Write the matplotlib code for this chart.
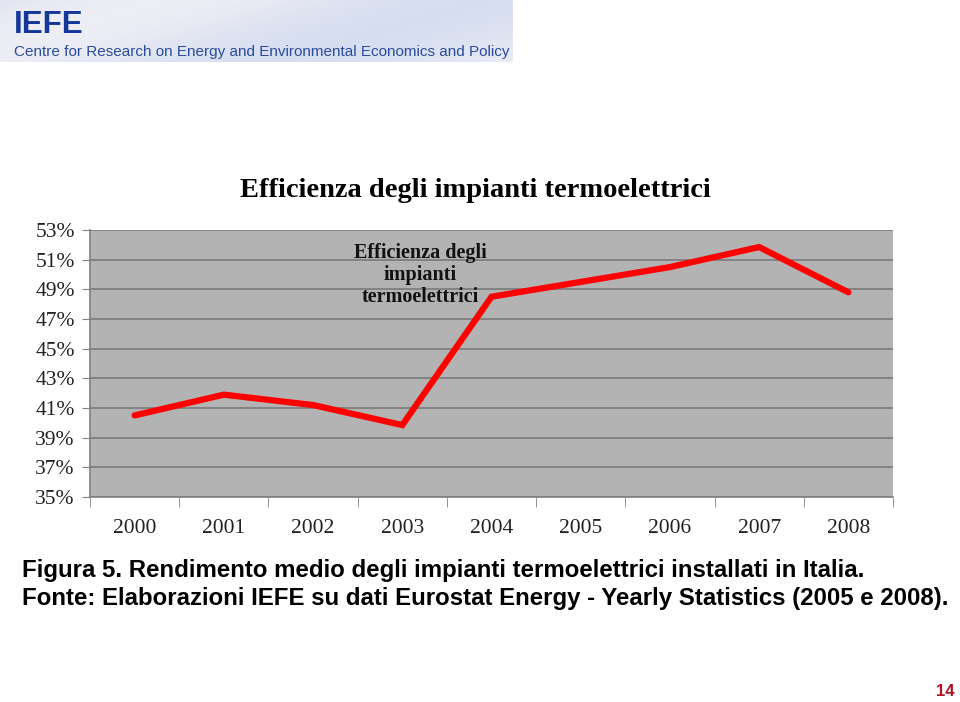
import matplotlib.pyplot as plt
import numpy as np
from matplotlib.ticker import FixedLocator, FuncFormatter

years = ["2000", "2001", "2002", "2003", "2004", "2005", "2006", "2007", "2008"]
efficiency = [40.5, 41.9, 41.2, 39.85, 48.5, 49.5, 50.5, 51.85, 48.8]
y_ticks = [35, 37, 39, 41, 43, 45, 47, 49, 51, 53]

W, H = 960, 702
fig = plt.figure(figsize=(W / 100, H / 100), dpi=100)
fig.patch.set_facecolor("white")

# header banner
ban = fig.add_axes([0, 1 - 62 / H, 513 / W, 62 / H])
gx = np.linspace(0, 1, 200)
gy = np.linspace(0, 1, 40)
GX, GY = np.meshgrid(gx, gy)
c1 = np.array([0.84, 0.87, 0.94])
c2 = np.array([0.93, 0.93, 0.96])
t = (0.5 + 0.5 * np.sin(GX * 5 + GY * 2))[..., None]
img = c1 * (1 - t) + c2 * t
ban.imshow(img, aspect="auto", extent=[0, 1, 0, 1])
ban.set_axis_off()
ban.text(14 / 513, 0.6, "IEFE", transform=ban.transAxes, fontsize=22.5,
         fontweight="bold", color="#14389a", family="Liberation Sans", va="center")
ban.text(14 / 513, 0.16, "Centre for Research on Energy and Environmental Economics and Policy",
         transform=ban.transAxes, fontsize=11, color="#2a4c9c",
         family="Liberation Sans", va="center")

# chart
ax = fig.add_axes([90 / W, (H - 497) / H, 803 / W, 267 / H])
ax.set_facecolor("#b3b3b3")
x = np.arange(len(years))
ax.plot(x, efficiency, color="#ff0000", lw=4.5, solid_capstyle="round",
        solid_joinstyle="miter", zorder=3)
ax.set_xlim(-0.5, len(years) - 0.5)
ax.set_ylim(35, 53)
ax.set_yticks(y_ticks)
ax.yaxis.set_major_formatter(FuncFormatter(lambda v, p: f"{v:.0f}%"))
ax.grid(axis="y", color="#7a7a7a", lw=1.2)
ax.set_axisbelow(True)
ax.set_xticks(x)
ax.set_xticklabels(years)
ax.xaxis.set_minor_locator(FixedLocator(np.arange(-0.5, len(years), 1)))
ax.tick_params(axis="x", which="major", length=0, pad=16)
ax.tick_params(axis="x", which="minor", length=7, color="#808080")
ax.tick_params(axis="y", length=6, color="#808080", pad=5)
for lab in ax.get_xticklabels() + ax.get_yticklabels():
    lab.set_family("Liberation Serif")
    lab.set_fontsize(15.5)
    lab.set_color("#222222")
for s in ["top", "right"]:
    ax.spines[s].set_visible(False)
for s in ["left", "bottom"]:
    ax.spines[s].set_color("#808080")
    ax.spines[s].set_linewidth(1.2)

ax.text(3.2, 49.95, "Efficienza degli\nimpianti\ntermoelettrici", ha="center", va="center",
        fontsize=14.5, fontweight="bold", family="Liberation Serif", linespacing=1.15,
        color="#111111")

fig.text(475 / W, 1 - 190 / H, "Efficienza degli impianti termoelettrici", ha="center",
         va="center", fontsize=20.5, fontweight="bold", family="Liberation Serif")

fig.text(22 / W, 1 - 570 / H,
         "Figura 5. Rendimento medio degli impianti termoelettrici installati in Italia.",
         fontsize=17.3, fontweight="bold", family="Liberation Sans", va="center")
fig.text(22 / W, 1 - 598 / H,
         "Fonte: Elaborazioni IEFE su dati Eurostat Energy - Yearly Statistics (2005 e 2008).",
         fontsize=17.3, fontweight="bold", family="Liberation Sans", va="center")
fig.text(945 / W, 1 - 692 / H, "14", fontsize=12, fontweight="bold", color="#b01020",
         family="Liberation Sans", ha="center", va="center")

fig.savefig("out.png", dpi=100)
